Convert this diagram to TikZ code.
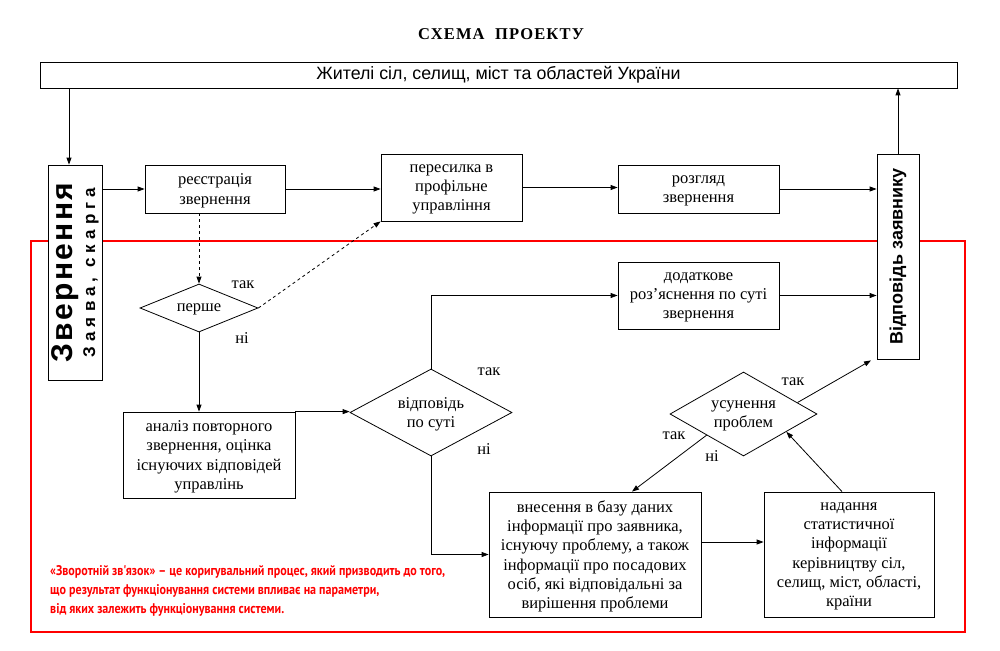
\documentclass[tikz,border=0pt]{standalone}
\usepackage{fontspec}
\setmainfont{Liberation Serif}
\newfontfamily\arialf{Liberation Sans}
\newfontfamily\redf[FakeStretch=0.86]{PT Sans}
\usetikzlibrary{arrows.meta,shapes.geometric,calc}
\begin{document}
\begin{tikzpicture}[x=1pt,y=-1pt,
  box/.style={draw,line width=0.8pt,fill=white,align=center,inner sep=0pt,
    text depth=-6pt,font=\fontsize{16.5}{19.3}\selectfont},
  dia/.style={draw,line width=0.8pt,fill=white,diamond,inner sep=0pt},
  lbl/.style={font=\fontsize{16.5}{19.3}\selectfont,inner sep=0pt},
  dlbl/.style={lbl,align=center,text depth=-5pt},
  arr/.style={line width=0.8pt,-{Triangle[length=7pt,width=5pt]}},
  darr/.style={arr,dashed}]
\useasboundingbox (0,0) rectangle (1000,650);
% red frame
\draw[red,line width=2pt] (31,241) rectangle (965,632);
% title
\node[font=\fontsize{16.5}{18}\selectfont\bfseries\addfontfeature{LetterSpace=7}] (title) at (501,34) {СХЕМА\ \ ПРОЕКТУ};
% nodes
\node[draw,line width=0.8pt,fill=white,inner sep=0pt,minimum width=917,minimum height=26,font=\arialf\fontsize{17.8}{19}\selectfont] (top) at (498.5,75) {Жителі сіл, селищ, міст та областей України};
\node[draw,line width=0.8pt,fill=white,align=center,inner sep=0pt,rotate=90,minimum width=215,minimum height=54,font=\fontsize{16}{19}\selectfont] (zv) at (75,272.5)
  {{\arialf\bfseries\fontsize{30}{24}\selectfont\addfontfeature{LetterSpace=8}Звернення}\\[4pt]
   {\arialf\bfseries\fontsize{17}{18}\selectfont\addfontfeature{LetterSpace=30}Заява, скарга}};
\node[box,minimum width=140,minimum height=48] (reg) at (215,189) {реєстрація\\звернення};
\node[box,minimum width=141,minimum height=67] (per) at (451.5,187.5) {пересилка в\\профільне\\управління};
\node[box,minimum width=161,minimum height=48] (roz) at (698.5,189) {розгляд\\звернення};
\node[draw,line width=0.8pt,fill=white,inner sep=0pt,rotate=90,minimum width=205,minimum height=42,font=\arialf\bfseries\fontsize{18}{20}\selectfont] (vid) at (898,256.5) {Відповідь заявнику};
\node[box,minimum width=161,minimum height=67] (dod) at (698.5,295.5) {додаткове\\роз'яснення по суті\\звернення};
\node[dia,minimum width=118,minimum height=48] (d1) at (199,308) {};
\node[dlbl,text depth=-4pt] at (d1) {перше};
\node[box,minimum width=172,minimum height=86] (an) at (209,455) {аналіз повторного\\звернення, оцінка\\існуючих відповідей\\управлінь};
\node[dia,minimum width=162,minimum height=87] (d2) at (431,412.5) {};
\node[dlbl] at (d2) {відповідь\\по суті};
\node[dia,minimum width=147,minimum height=84] (d3) at (743.5,414) {};
\node[dlbl,text depth=-6pt] at (d3) {усунення\\проблем};
\node[box,minimum width=212,minimum height=125] (vn) at (595,554.5) {внесення в базу даних\\інформації про заявника,\\існуючу проблему, а також\\інформації про посадових\\осіб, які відповідальні за\\вирішення проблеми};
\node[box,minimum width=170,minimum height=125] (nad) at (849,554.5) {надання\\статистичної\\інформації\\керівництву сіл,\\селищ, міст, області,\\країни};
% labels
\node[lbl] at (243,285) {так};
\node[lbl] at (242,338) {ні};
\node[lbl] at (489,372) {так};
\node[lbl] at (484,449) {ні};
\node[lbl] at (793,382) {так};
\node[lbl] at (674,436) {так};
\node[lbl] at (712,456) {ні};
% connectors
\draw[arr] ([xshift=-6pt]zv.east |- top.south) -- ([xshift=-6pt]zv.east);
\draw[arr] (zv.south |- reg.west) -- (reg.west);
\draw[arr] (reg.east) -- (reg.east -| per.west);
\draw[arr] (per.east) -- (per.east -| roz.west);
\draw[arr] (roz.east) -- (roz.east -| vid.north);
\draw[arr] (vid.east) -- (vid.east |- top.south);
\draw[darr] (d1.north |- reg.south) -- (d1.north);
\draw[darr] (d1.east) -- (per.south west);
\draw[arr] (d1.south) -- (d1.south |- an.north);
\draw[arr] (an.north east) -- (an.north east -| d2.west);
\draw[arr] (d2.north) |- (dod.west);
\draw[arr] (dod.east) -- (dod.east -| vid.north);
\draw[arr] (d2.south) |- (vn.west);
\draw[arr] ([yshift=12.5pt]vn.east) -- ([yshift=12.5pt]nad.west);
\draw[arr] ($(d3.north)!0.73!(d3.east)$) -- ([yshift=-1pt]vid.south west -| 871,0);
\draw[arr] (d3.south west) -- ([xshift=37pt]vn.north);
\draw[arr] ([xshift=-7pt]nad.north) -- ($(d3.east)!0.42!(d3.south)$);
% red text
\node[anchor=west,align=left,text=red,inner sep=0pt,font=\redf\bfseries\fontsize{14}{19}\selectfont] (note) at (50,591)
  {«Зворотній зв'язок» – це коригувальний процес, який призводить до того,\\
   що результат функціонування системи впливає на параметри,\\
   від яких залежить функціонування системи.};
\end{tikzpicture}
\end{document}
